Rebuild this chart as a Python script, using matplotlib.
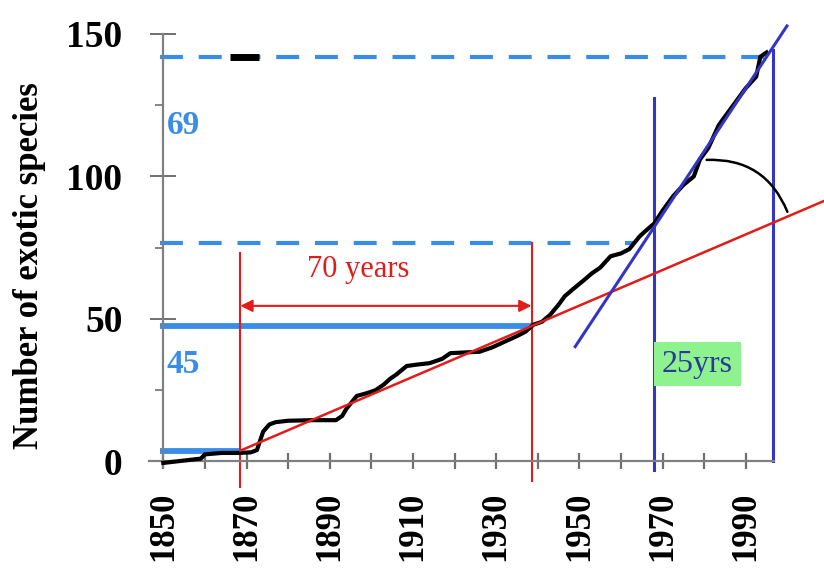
import matplotlib
matplotlib.use("Agg")
import matplotlib.pyplot as plt
from matplotlib.ticker import FixedLocator

# cumulative number of exotic species
years = [1850, 1853, 1856, 1859, 1860, 1864, 1868, 1871, 1872.5, 1874, 1875.5, 1877,
         1880, 1886, 1891.5, 1893, 1894, 1896.5, 1899, 1901, 1903, 1904.5, 1906,
         1908.5, 1911, 1914, 1917, 1919, 1923, 1926, 1929, 1932, 1935, 1937, 1939,
         1941, 1943, 1945, 1946.5, 1948.5, 1951, 1953, 1955, 1957.5, 1960, 1962,
         1964.5, 1966, 1968, 1970, 1972.5, 1975, 1977.5, 1979, 1981, 1983.5, 1986,
         1988.5, 1990, 1992.5, 1993.5, 1995]
species = [-0.5, 0, 0.5, 1, 2.5, 3, 3, 3.2, 4, 10.5, 13, 13.8,
           14.3, 14.5, 14.5, 16, 18.5, 23, 24, 25, 27, 29, 30.5,
           33.5, 34, 34.5, 36, 38, 38.3, 38.5, 40, 42, 44, 45.5, 48,
           49, 51.5, 55, 58, 60.5, 63.5, 66, 68, 72, 73, 74.5,
           79, 81, 83.5, 88, 93, 97, 100, 106, 110, 118, 123,
           128, 131, 135, 142, 143.5]

# trend lines (start, end)
slow_x = [1868.5, 2008.8]
slow_y = [3.8, 91.4]
fast_x = [1949, 1999.9]
fast_y = [40.3, 152.8]

# reference levels
low_level, mid_level = 3.8, 47.5
dash_low, dash_high = 76.5, 142
red_years = [1868.5, 1938.5]
blue_years = [1968, 1996.5]

x_ticks = list(range(1850, 2000, 20))
x_minor = list(range(1860, 2000, 20))
y_ticks = [0, 50, 100, 150]
y_minor = [25, 75, 125]

LIGHT = "#3a8de6"
DARK = "#3535c4"
RED = "#e21b1b"
SERIF = "Liberation Serif"

fig = plt.figure(figsize=(8.24, 5.69), dpi=100)
ax = fig.add_axes([150 / 824, 79 / 569, 674 / 824, 490 / 569])
ax.set_xlim(1846.8, 2008.8)
ax.set_ylim(-10, 161.9)

# axes styling
for s in ["top", "right"]:
    ax.spines[s].set_visible(False)
ax.spines["left"].set_position(("data", 1850))
ax.spines["bottom"].set_position(("data", 0))
ax.spines["left"].set_bounds(-2, 150)
ax.spines["bottom"].set_bounds(1846.5, 1996.8)
for s in ["left", "bottom"]:
    ax.spines[s].set_color("#808080")
    ax.spines[s].set_linewidth(1.6)

ax.set_xticks(x_ticks)
ax.xaxis.set_minor_locator(FixedLocator(x_minor))
ax.set_yticks(y_ticks)
ax.yaxis.set_minor_locator(FixedLocator(y_minor))
ax.tick_params(axis="x", which="both", direction="inout", length=11, width=1.6,
               color="#707070", pad=16, labelrotation=90)
ax.tick_params(axis="y", which="major", direction="inout", length=19, width=1.4,
               color="#707070", pad=20)
ax.tick_params(axis="y", which="minor", direction="out", length=6, width=1.2,
               color="#707070")
for lab in ax.get_xticklabels():
    lab.set_fontfamily(SERIF)
    lab.set_fontweight("bold")
    lab.set_fontsize(25)
for lab in ax.get_yticklabels():
    lab.set_fontfamily(SERIF)
    lab.set_fontweight("bold")
    lab.set_fontsize(27)

ax.set_ylabel("Number of exotic species", family=SERIF, fontweight="bold", fontsize=25)
ax.yaxis.set_label_coords(-0.155, 0.459)

# dashed and solid reference levels
ax.plot([1849.2, 1963], [dash_low, dash_low], color=LIGHT, lw=3, dashes=(5.5, 3.8))
ax.plot([1849.2, 1995], [dash_high, dash_high], color=LIGHT, lw=3, dashes=(5.5, 3.8))
ax.plot([1849.2, red_years[0]], [low_level, low_level], color=LIGHT, lw=4.2,
        solid_capstyle="butt")
ax.plot([1849.2, red_years[1]], [mid_level, mid_level], color=LIGHT, lw=4.2,
        solid_capstyle="butt")

# small black mark near the top
ax.plot([1866, 1873], [142, 142], color="black", lw=5, solid_capstyle="butt")

# vertical markers
ax.plot([red_years[0], red_years[0]], [-9, 73], color=RED, lw=1.5)
ax.plot([red_years[1], red_years[1]], [-6.7, dash_low], color=RED, lw=1.5)
ax.plot([blue_years[0], blue_years[0]], [-3, 127.4], color=DARK, lw=2.2)
ax.plot([blue_years[1], blue_years[1]], [0, 144.4], color=DARK, lw=2.2)

# data curve and trends
ax.plot(years, species, color="black", lw=3, zorder=3)
ax.plot(slow_x, slow_y, color=RED, lw=1.8, zorder=4)
ax.plot(fast_x, fast_y, color=DARK, lw=2.2, zorder=4)

# angle arc between the two trends
ax.annotate("", xy=(2000, 87.6), xytext=(1980.6, 105.8),
            arrowprops=dict(arrowstyle="-", connectionstyle="arc3,rad=-0.35",
                            lw=1.8, color="black", shrinkA=0, shrinkB=0))

# 70 years arrow
ax.annotate("", xy=(red_years[1], 54.6), xytext=(red_years[0], 54.6),
            arrowprops=dict(arrowstyle="<|-|>", color=RED, lw=1.5,
                            mutation_scale=18, shrinkA=0, shrinkB=0))
ax.text(1896.8, 67.2, "70 years", color=RED, family=SERIF, fontsize=22,
        ha="center", va="center")

ax.text(1850.8, 118, "69", color=LIGHT, family=SERIF, fontweight="bold",
        fontsize=24, ha="left", va="center")
ax.text(1850.8, 33.9, "45", color=LIGHT, family=SERIF, fontweight="bold",
        fontsize=24, ha="left", va="center")

ax.text(1978.3, 34.2, "25yrs", color="#2a3a9c", family=SERIF, fontsize=23,
        ha="center", va="center",
        bbox=dict(boxstyle="square,pad=0.25", fc="#8ef28e", ec="none"))

fig.savefig("out.png", dpi=100)
